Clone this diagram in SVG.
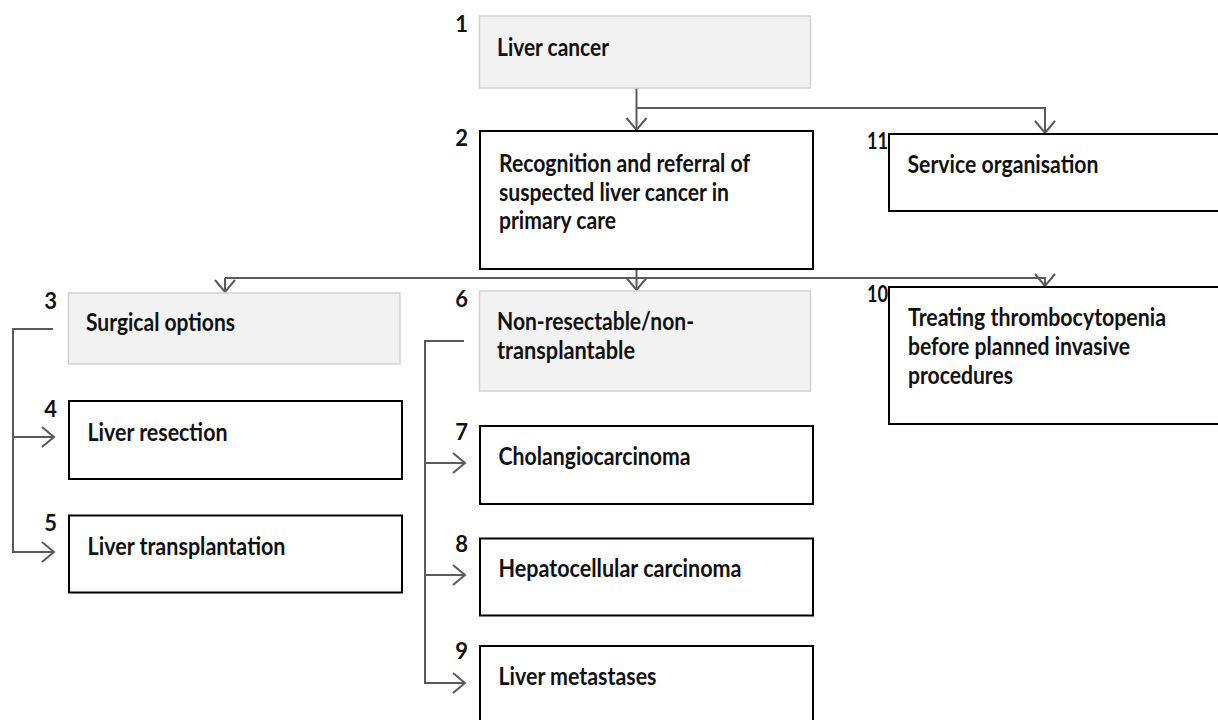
<svg xmlns="http://www.w3.org/2000/svg" width="1218" height="720" viewBox="0 0 1218 720">
<style>
.grey{fill:#f2f2f2;stroke:#d2d2d2;stroke-width:1.5}
.white{fill:#ffffff;stroke:#000000;stroke-width:2}
.t{font-family:Lato,"Liberation Sans",sans-serif;font-weight:bold;font-size:24px;fill:#111111}
.n{font-family:Lato,"Liberation Sans",sans-serif;font-weight:bold;font-size:22px;fill:#111111;text-anchor:end}
.c{fill:none;stroke:#5a5a5a;stroke-width:2}
</style>
<defs>
<marker id="arr" markerUnits="userSpaceOnUse" viewBox="-14 -12 16 24" markerWidth="16" markerHeight="24" refX="0" refY="0" orient="auto">
<path d="M-12,-10 L0,0 L-12,10" fill="none" stroke="#5a5a5a" stroke-width="2"/>
</marker>
</defs>
<rect width="1218" height="720" fill="#ffffff"/>
<g id="connectors">
<path class="c" d="M636.5,88 V130" marker-end="url(#arr)"/>
<path class="c" d="M636.5,108 H1045 V133" marker-end="url(#arr)"/>
<path class="c" d="M636.5,269 V290" marker-end="url(#arr)"/>
<path class="c" d="M225,278 V292" marker-end="url(#arr)"/>
<path class="c" d="M225,278 H1045 V286" marker-end="url(#arr)"/>
<path class="c" d="M53,329 H13 V552 H54" marker-end="url(#arr)"/>
<path class="c" d="M13,437 H54" marker-end="url(#arr)"/>
<path class="c" d="M464,341 H425 V683 H465" marker-end="url(#arr)"/>
<path class="c" d="M425,463 H465" marker-end="url(#arr)"/>
<path class="c" d="M425,575 H465" marker-end="url(#arr)"/>
</g>
<g id="node1">
<rect class="grey" x="479.5" y="16" width="331" height="72"/>
<text class="n" x="468" y="32">1</text>
<text class="t" x="497" y="56" textLength="112" lengthAdjust="spacingAndGlyphs">Liver cancer</text>
</g>
<g id="node2">
<rect class="white" x="480" y="131" width="333" height="138"/>
<text class="n" x="468" y="146">2</text>
<text class="t" x="499" y="171.5" textLength="251" lengthAdjust="spacingAndGlyphs">Recognition and referral of</text>
<text class="t" x="499" y="200.5" textLength="230" lengthAdjust="spacingAndGlyphs">suspected liver cancer in</text>
<text class="t" x="499" y="228.5" textLength="117" lengthAdjust="spacingAndGlyphs">primary care</text>
</g>
<g id="node11">
<rect class="white" x="889" y="134" width="335" height="77"/>
<text class="n" x="888" y="149" textLength="21" lengthAdjust="spacingAndGlyphs">11</text>
<text class="t" x="907.5" y="173" textLength="191" lengthAdjust="spacingAndGlyphs">Service organisation</text>
</g>
<g id="node10">
<rect class="white" x="889" y="287" width="335" height="137"/>
<text class="n" x="888" y="302" textLength="21" lengthAdjust="spacingAndGlyphs">10</text>
<text class="t" x="908" y="326" textLength="258" lengthAdjust="spacingAndGlyphs">Treating thrombocytopenia</text>
<text class="t" x="908" y="355" textLength="222" lengthAdjust="spacingAndGlyphs">before planned invasive</text>
<text class="t" x="908" y="384" textLength="105" lengthAdjust="spacingAndGlyphs">procedures</text>
</g>
<g id="node3">
<rect class="grey" x="68.5" y="293" width="331.5" height="71"/>
<text class="n" x="57" y="309">3</text>
<text class="t" x="86" y="331" textLength="149" lengthAdjust="spacingAndGlyphs">Surgical options</text>
</g>
<g id="node4">
<rect class="white" x="69" y="401" width="333" height="78"/>
<text class="n" x="57" y="416.5">4</text>
<text class="t" x="87.5" y="440.5" textLength="140" lengthAdjust="spacingAndGlyphs">Liver resection</text>
</g>
<g id="node5">
<rect class="white" x="69" y="515.5" width="333" height="77"/>
<text class="n" x="57" y="531">5</text>
<text class="t" x="87.5" y="555" textLength="198" lengthAdjust="spacingAndGlyphs">Liver transplantation</text>
</g>
<g id="node6">
<rect class="grey" x="479.5" y="291" width="331" height="100"/>
<text class="n" x="468" y="306.5">6</text>
<text class="t" x="497" y="330" textLength="197" lengthAdjust="spacingAndGlyphs">Non-resectable/non-</text>
<text class="t" x="497" y="358.5" textLength="138" lengthAdjust="spacingAndGlyphs">transplantable</text>
</g>
<g id="node7">
<rect class="white" x="480" y="426" width="333" height="78"/>
<text class="n" x="468" y="440">7</text>
<text class="t" x="498.5" y="465" textLength="192" lengthAdjust="spacingAndGlyphs">Cholangiocarcinoma</text>
</g>
<g id="node8">
<rect class="white" x="480" y="538.5" width="333" height="77"/>
<text class="n" x="468" y="552">8</text>
<text class="t" x="498.5" y="577" textLength="243" lengthAdjust="spacingAndGlyphs">Hepatocellular carcinoma</text>
</g>
<g id="node9">
<rect class="white" x="480" y="646" width="333" height="80"/>
<text class="n" x="468" y="659">9</text>
<text class="t" x="498.5" y="684.5" textLength="158" lengthAdjust="spacingAndGlyphs">Liver metastases</text>
</g>
</svg>
